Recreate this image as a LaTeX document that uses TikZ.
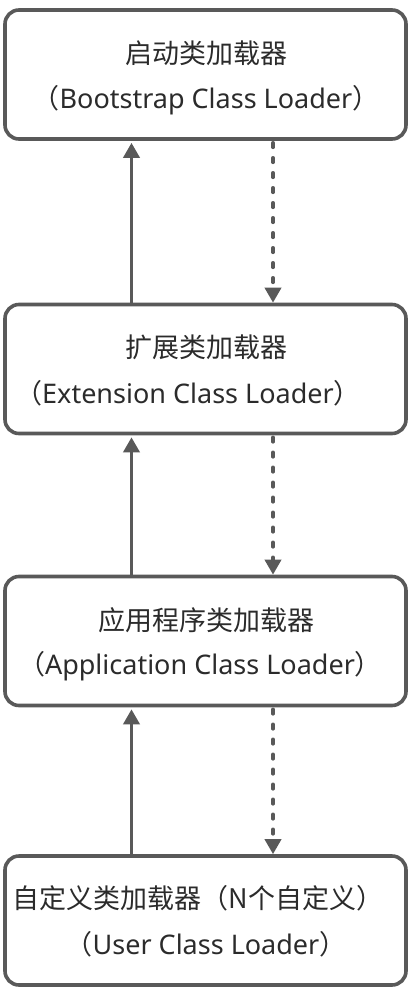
\documentclass[tikz,border=0pt]{standalone}
\usepackage{fontspec}
\setmainfont{Noto Sans}
\newfontfamily\cjk{Noto Sans CJK SC}
\usetikzlibrary{arrows.meta}
\definecolor{edge}{HTML}{595959}
\definecolor{ink}{HTML}{2B2B2B}

\begin{document}
\begin{tikzpicture}[x=1pt,y=-1pt,
		box/.style={draw=edge,line width=3.6pt,rounded corners=14pt,minimum width=401pt,minimum height=129pt,inner sep=0pt},
		txt/.style={text=ink,font=\fontsize{27}{30}\selectfont,inner sep=0pt,anchor=center},
		up/.style={draw=edge,line width=3.6pt,-{Triangle[length=15pt,width=16pt]}},
		down/.style={draw=edge,line width=3.6pt,line cap=round,dash pattern=on 4.5pt off 10.5pt,-{Triangle[length=15pt,width=16pt]}}]
			\useasboundingbox (0,0) rectangle (412,996);
			% loaders
			\node[box] (boot) at (205.5,74.5) {};
			\node[box] (ext) at (205.5,369) {};
			\node[box] (app) at (205.5,641) {};
			\node[box] (user) at (205.5,920.5) {};
			% labels
			\node[txt] (bootZh) at (206,53) {\cjk 启动类加载器};
			\node[txt] (bootEn) at (206,100) {{\cjk （}Bootstrap Class Loader{\cjk ）}};
			\node[txt] (extZh) at (206,347) {\cjk 扩展类加载器};
			\node[txt] (extEn) at (188,393) {{\cjk （}Extension Class Loader{\cjk ）}};
			\node[txt] (appZh) at (206,620) {\cjk 应用程序类加载器};
			\node[txt] (appEn) at (200,666) {{\cjk （}Application Class Loader{\cjk ）}};
			\node[txt] (userZh) at (198,898) {\cjk 自定义类加载器（N个自定义）};
			\node[txt] (userEn) at (206,944) {{\cjk （}User Class Loader{\cjk ）}};
			% delegation
			\foreach \a/\b in {ext/boot,app/ext,user/app} {
				\draw[up] ([xshift=-74pt]\a.north) -- ([xshift=-74pt,yshift=-2pt]\b.south);
				\draw[down] ([xshift=67.5pt,yshift=-2pt]\b.south) -- ([xshift=67.5pt]\a.north);
			}
		\end{tikzpicture}
\end{document}
